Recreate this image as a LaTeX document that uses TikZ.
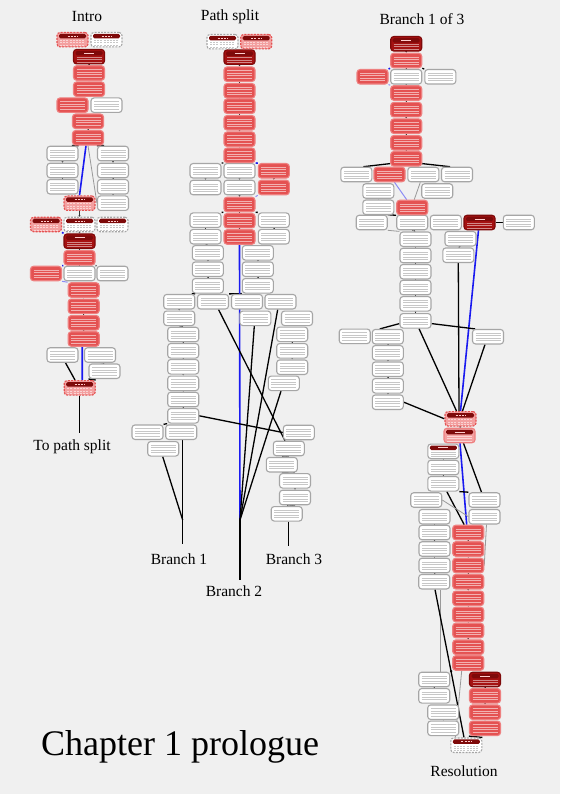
\documentclass[tikz,border=0pt]{standalone}
\usepackage{fontspec}
\setmainfont{Liberation Serif}
\usetikzlibrary{arrows.meta}
\definecolor{bgc}{HTML}{F0F0F0}
\definecolor{redf}{HTML}{E45252}
\definecolor{redb}{HTML}{EE8080}
\definecolor{pinkf}{HTML}{F3A0A0}
\definecolor{hdrc}{HTML}{7E0A0A}
\definecolor{darkf}{HTML}{A51212}
\definecolor{wborder}{HTML}{A6A6A6}
\definecolor{blueln}{HTML}{1A1AF0}
\definecolor{lblue}{HTML}{8C8CF5}
\pgfdeclarelayer{bgl}
\pgfsetlayers{bgl,main}
\begin{document}
\begin{tikzpicture}[x=1pt,y=-1pt,
  bx/.style={rounded corners=3pt, minimum width=31pt, minimum height=14.5pt, inner sep=0pt, line width=1.1pt},
  txtl/.style={path picture={\foreach \k in {1,...,4}
      \draw[#1, line width=0.7pt] ([xshift=3pt,yshift=-1.2pt-\k*2.5pt]path picture bounding box.north west) -- ([xshift=-3pt,yshift=-1.2pt-\k*2.5pt]path picture bounding box.north east);}},
  hdrtxt/.style={path picture={
      \fill[hdrc, rounded corners=1.5pt] ([xshift=2pt,yshift=-1.5pt]path picture bounding box.north west) rectangle ([xshift=-2pt,yshift=-6pt]path picture bounding box.north east);
      \draw[white!80!red, line width=0.7pt] ([xshift=-5pt,yshift=-3.7pt]path picture bounding box.north) -- ([xshift=5pt,yshift=-3.7pt]path picture bounding box.north);
      \foreach \k in {1,2,3}
      \draw[#1, line width=0.7pt] ([xshift=3pt,yshift=-5.5pt-\k*2.4pt]path picture bounding box.north west) -- ([xshift=-3pt,yshift=-5.5pt-\k*2.4pt]path picture bounding box.north east);}},
  wbox/.style={bx, fill=white, draw=wborder, txtl=black!22},
  rbox/.style={bx, fill=redf, draw=redb, txtl=white!55!redf},
  dbox/.style={bx, fill=darkf, draw=hdrc, hdrtxt=white!50!darkf},
  hbox/.style={bx, fill=pinkf, draw=redf, dash pattern=on 2pt off 1.2pt, hdrtxt=white!55!pinkf},
  hsbox/.style={bx, fill=pinkf, draw=redb, hdrtxt=white!55!pinkf},
  hwbox/.style={bx, fill=white, draw=wborder, dash pattern=on 2pt off 1.2pt, hdrtxt=black!22},
  hwsbox/.style={bx, fill=white, draw=wborder, hdrtxt=black!22},
  conn/.style={line width=1.3pt, black},
  bconn/.style={line width=1.6pt, blueln},
  lbconn/.style={line width=1pt, lblue},
  gconn/.style={line width=0.8pt, black!40},
  chainarr/.style={line width=0.5pt, black!80, -{Latex[length=1.5pt,width=2.2pt]}},
  lbl/.style={font=\fontsize{15.5}{18}\selectfont, inner sep=0pt}
]
\begin{pgfonlayer}{bgl}
\fill[bgc] (0,0) rectangle (560,794);
\end{pgfonlayer}
\useasboundingbox (0,0) rectangle (560,794);

% white boxes
\foreach \n/\x/\y in {i7/106.5/105.2, i10/62.5/153.5, i11/113/153.5, i12/62.5/170.5, i13/113/170.5, i14/62.5/186.8, i15/113/186.8, i17/113/203.2, i24/79.5/273.5, i25/112.5/273.5, i30/62.5/355, i31/100/355, i32/104.5/371.2,
 p10/205.5/170.8, p11/239.5/170.8, p13/205.5/187.5, p14/239.5/187.5, p17/205.5/220.2, p19/273.8/220.2, p20/205.5/236.7, p22/273.8/236.7, p23/207.8/252.8, p24/257.8/252.8, p25/207.8/269.2, p26/257.8/269.2, p27/207.8/285.8, p28/257.8/285.8, p29/179.2/301.7, p30/213/301.7, p31/247/301.7, p32/280.5/301.7, p33/179.2/318.3, p34/255.3/318.3, p35/297/318.3, p36/183.2/334.5, p37/183.2/350.8, p38/183.2/366.8, p39/183.2/383.3, p40/183.2/399.5, p41/183.2/415.8, p42/292.2/334.3, p43/292.2/350.8, p44/292.2/367.2, p45/283.8/383.3, p46/147.5/432.2, p47/181.2/432.2, p48/163.2/448.8, p49/298.8/432.5, p50/288.8/448.5, p51/281.8/464.7, p52/295/480.8, p53/295/497.5, p54/286.7/513.8,
 b4/406.2/76.8, b5/440.3/76.8, b11/356.3/174.5, b13/423.3/174.5, b14/457/174.5, b15/378.3/191, b16/437.2/191, b17/378.3/207.3, b19/371.7/222.5, b20/412.2/222.5, b21/445.8/222.5, b23/518.8/222.5, b24/415.5/239.2, b25/460.5/238.7, b26/415.5/255.5, b27/458.3/255.2, b28/415.5/271.7, b29/415.5/287.5, b30/415.5/303.8, b31/415.5/320.8, b32/354.7/336.3, b33/387.8/336.7, b34/488/336.7, b35/387.8/352.8, b36/387.8/369.2, b37/387.8/385.8, b38/387.8/402.2, b42/443.3/467.5, b43/443.3/483.8, b44/426.2/500, b45/484.5/500, b46/434.5/516.7, b47/484.5/516.7, b48/434.5/532.5, b50/434.5/549, b52/434.5/565.5, b54/434.2/581.7, b61/434.2/679.5, b63/434.2/695.8, b65/443.2/712.2, b67/443.2/728.3}
  \node[wbox] (\n) at (\x,\y) {};

% red boxes
\foreach \n/\x/\y in {i4/89/73, i5/89/89.2, i6/72.5/105.2, i8/88/121.3, i9/88/137.8, i22/79.5/257.8, i23/46/273.5, i26/83.7/290, i27/83.7/306.3, i28/83.7/322.8, i29/83.7/339,
 p4/239.5/74.2, p5/239.5/90.8, p6/239.5/106.2, p7/239.5/122.8, p8/239.5/139.2, p9/239.5/155.3, p12/273.8/170.8, p15/273.8/187.5, p16/239.5/204.5, p18/239.5/220.7, p21/239.5/237,
 b2/406.2/60.5, b3/372.5/76.8, b6/406.2/93, b7/406.2/109.7, b8/406.2/126.2, b9/406.2/142.8, b10/406.2/158.8, b12/389.5/174.5, b18/412.2/207.5, b49/468.2/532.5, b51/468.2/549, b53/468.2/565.5, b55/468.2/581.7, b56/468.2/598.3, b57/468.2/614.5, b58/468.2/630.5, b59/468.2/647.2, b60/468.2/663, b64/485/695.8, b66/485/712.2, b68/485/728.3}
  \node[rbox] (\n) at (\x,\y) {};

% dark boxes
\foreach \n/\x/\y in {i3/89/56.7, i21/79.5/241.2, p3/239.5/57.2, b1/406.2/43.8, b22/479.5/222.5, b62/485/679.5}
  \node[dbox] (\n) at (\x,\y) {};

% header boxes
\foreach \n/\x/\y in {i1/72.5/39.7, i16/79.5/203.2, i18/46/224.5, i33/79.7/387.8, p2/256.2/41.7, b39/460.5/418.8}
  \node[hbox] (\n) at (\x,\y) {};
\node[hsbox] (b40) at (459.5,435.5) {};
\foreach \n/\x/\y in {i2/106.5/39.7, i19/79.5/224.5, i20/112.5/224.5, p1/222.5/41.7, b69/466.3/745.2}
  \node[hwbox] (\n) at (\x,\y) {};
\node[hwsbox] (b41) at (443.3,451.3) {};

% free ends
\coordinate (toPS) at (79.7,433);
\coordinate (b1c) at (182.7,520);
\coordinate (b1e) at (182.7,544);
\coordinate (b2c) at (240,520);
\coordinate (b2e) at (240,580);
\coordinate (b3e) at (288.3,546);

% labels
\node[lbl] (tIntro) at (87,17) {Intro};
\node[lbl] (tPS) at (230,17) {Path split};
\node[lbl] (tB) at (422,19) {Branch 1 of 3};
\node[lbl] (tTo) at (72,447) {To path split};
\node[lbl] (tB1) at (179,559) {Branch 1};
\node[lbl] (tB2) at (234,591) {Branch 2};
\node[lbl] (tB3) at (294,559) {Branch 3};
\node[lbl] (tRes) at (464,771) {Resolution};
\node[font=\fontsize{36}{41}\selectfont, inner sep=0pt, anchor=base west] (tChap) at (41,755) {Chapter 1 prologue};

\begin{pgfonlayer}{bgl}
% chains
\foreach \a/\b in {i3/i4,i4/i5,i8/i9,i10/i12,i12/i14,i11/i13,i13/i15,i15/i17,i21/i22,i22/i24,i26/i27,i27/i28,i28/i29,i31/i32,i16/i19,i19/i21,
 p3/p4,p4/p5,p5/p6,p6/p7,p7/p8,p8/p9,p10/p13,p11/p14,p12/p15,p14/p16,p16/p18,p18/p21,p17/p20,p19/p22,p20/p23,p23/p25,p25/p27,p24/p26,p26/p28,p29/p33,p33/p36,p36/p37,p37/p38,p38/p39,p39/p40,p40/p41,p42/p43,p43/p44,p50/p51,p51/p52,p52/p53,p53/p54,
 b1/b2,b2/b4,b4/b6,b6/b7,b7/b8,b8/b9,b9/b10,b15/b17,b20/b24,b24/b26,b26/b28,b28/b29,b29/b30,b30/b31,b25/b27,b33/b35,b35/b36,b36/b37,b37/b38,b39/b40,b41/b42,b42/b43,b46/b48,b48/b50,b50/b52,b52/b54,b49/b51,b51/b53,b53/b55,b55/b56,b56/b57,b57/b58,b58/b59,b59/b60,b61/b63,b65/b67,b62/b64,b64/b66,b66/b68}
  \draw[chainarr] (\a.south) -- (\b.north);

% intro connectors
\draw[bconn] ([xshift=-2pt]i9.south) -- (i16.north);
\draw[gconn] (i9.south) -- (i17.west);
\draw[conn] (i9.south west) -- (i10.north east);
\draw[conn] (i9.south east) -- (i11.north west);
\draw[bconn] (i18.south east) -- (i21.north west);
\draw[bconn] (i22.south west) -- (i23.north east);
\draw[conn] (i22.south east) -- (i25.north west);
\draw[lbconn] (i23.south east) -- (i26.north west);
\draw[bconn] ([xshift=-1.5pt]i29.south) -- ([xshift=2.6pt]i33.north);
\draw[conn] ([xshift=3pt]i30.south) -- ([xshift=-4.7pt]i33.north);
\draw[conn] (i32.south west) -- (i33.north east);
\draw[conn] (i33.south) -- (toPS);

% path split connectors
\draw[conn] (p9.south west) -- (p10.north east);
\draw[bconn] (p9.south east) -- (p12.north west);
\draw[lbconn] (p15.south west) -- (p16.north east);
\draw[conn] (p16.south west) -- (p17.north east);
\draw[conn] (p16.south east) -- (p19.north west);
\draw[conn] (p27.south west) -- (p29.north east);
\draw[conn] (p28.south west) -- (p30.north east);
\draw[bconn] (p21.south) -- (b2c);
\draw[conn] ([xshift=5.5pt]p30.south) -- ([xshift=-3.8pt]p50.north);
\draw[conn] ([xshift=-2.8pt]p32.south) -- (b2c);
\draw[conn] ([xshift=-1pt]p34.south) -- (b2c);
\draw[conn] ([xshift=-2.8pt]p45.south) -- (b2c);
\draw[conn] (p41.east) -- (p49.west);
\draw[conn] (p41.south west) -- (p46.north east);
\draw[conn] ([xshift=-0.5pt]p48.south) -- (b1c);
\draw[conn] ([xshift=1.5pt]p47.south) -- (b1e);
\draw[conn] (b2c) -- (b2e);
\draw[conn] ([xshift=1.6pt]p54.south) -- (b3e);

% branch connectors
\draw[bconn] (b2.south west) -- (b3.north east);
\draw[conn] (b2.south east) -- (b5.north west);
\draw[lbconn] (b3.south east) -- (b6.north west);
\draw[conn] ([yshift=3pt]b10.south west) -- ([xshift=7pt]b11.north);
\draw[conn] ([yshift=3pt]b10.south east) -- ([xshift=-7pt]b14.north);
\draw[lbconn] ([xshift=5pt]b12.south) -- ([xshift=-5.5pt]b18.north);
\draw[gconn] ([xshift=-3pt]b13.south) -- ([xshift=2pt]b18.north);
\draw[conn] (b19.north east) -- (b18.south west);
\draw[gconn] (b19.south east) -- (b24.north west);
\draw[conn] (b22.east) -- (b23.west);
\draw[bconn] ([xshift=-1pt]b22.south) -- (b39.north);
\draw[conn] (b27.south) -- ([xshift=-1.5pt]b39.north);
\draw[conn] ([yshift=5pt]b31.south west) -- ([xshift=-8pt]b33.north);
\draw[conn] ([yshift=5pt]b31.south east) -- ([xshift=-13pt]b34.north);
\draw[conn] ([xshift=3.5pt]b31.south) -- ([xshift=-4pt]b39.north);
\draw[conn] ([xshift=-3pt]b34.south) -- ([xshift=2pt]b39.north);
\draw[conn] (b38.east) -- (b39.west);
\draw[bconn] ([xshift=0.5pt]b40.south) -- ([xshift=-1.5pt]b49.north);
\draw[conn] ([xshift=4pt]b40.south) -- ([xshift=-3pt]b45.north);
\draw[conn] ([xshift=3.5pt]b43.south) -- ([xshift=-4pt]b49.north);
\draw[conn] (b43.south east) -- (b45.north west);
\draw[gconn] (b44.east) -- (b47.west);
\draw[gconn] ([xshift=2pt]b47.south) -- (b53.east);
\draw[gconn] ([xshift=6.5pt]b54.south) -- ([xshift=6.5pt]b61.north);
\draw[conn] ([xshift=0.8pt]b54.south) -- ([xshift=-2.3pt]b69.north);
\draw[gconn] ([xshift=-6.5pt]b60.south) -- ([xshift=-11pt]b69.north);
\draw[conn] (b61.north east) -- (b60.south west);
\draw[conn] (b68.south west) -- (b69.north east);
\end{pgfonlayer}
\end{tikzpicture}
\end{document}
